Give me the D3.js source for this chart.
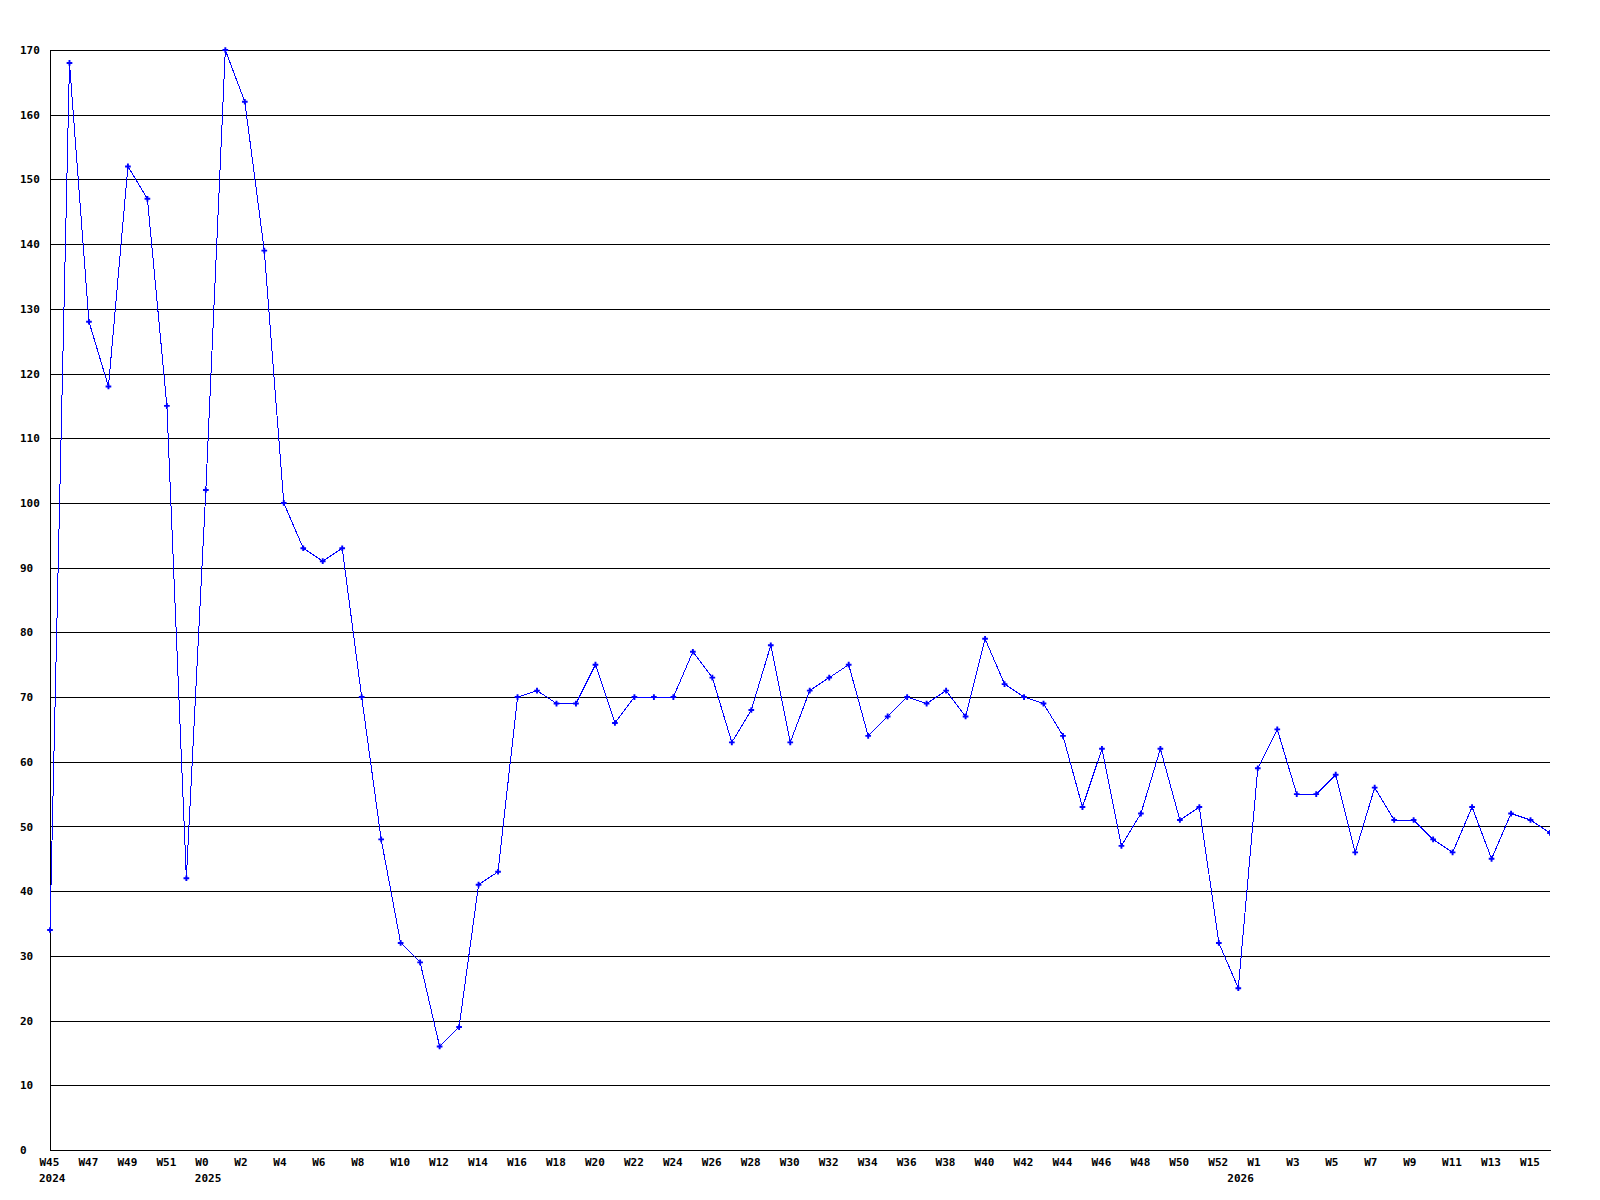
<!DOCTYPE html>
<html>
<head>
<meta charset="utf-8">
<script src="https://cdn.jsdelivr.net/npm/d3@7"></script>
<style>
  body { margin: 0; background: #fff; }
  svg { display: block; }
  text { font-family: "DejaVu Sans Mono", "Liberation Mono", monospace; font-weight: bold; font-size: 11px; fill: #000; }
</style>
</head>
<body>
<div id="container"></div>
<script>
// weekly counts, W45 2024 .. W16 2026
const weeks = [
  "W45", "W46", "W47", "W48", "W49", "W50", "W51", "W52",
  "W0", "W1", "W2", "W3", "W4", "W5", "W6", "W7", "W8", "W9", "W10",
  "W11", "W12", "W13", "W14", "W15", "W16", "W17", "W18", "W19", "W20",
  "W21", "W22", "W23", "W24", "W25", "W26", "W27", "W28", "W29", "W30",
  "W31", "W32", "W33", "W34", "W35", "W36", "W37", "W38", "W39", "W40",
  "W41", "W42", "W43", "W44", "W45", "W46", "W47", "W48", "W49", "W50",
  "W51", "W52",
  "W0", "W1", "W2", "W3", "W4", "W5", "W6", "W7", "W8", "W9", "W10",
  "W11", "W12", "W13", "W14", "W15", "W16"
];
const years = ["2024", "2025", "2026"];
const values = [
  34, 168, 128, 118, 152, 147, 115, 42,
  102, 170, 162, 139, 100, 93, 91, 93, 70, 48, 32,
  29, 16, 19, 41, 43, 70, 71, 69, 69, 75,
  66, 70, 70, 70, 77, 73, 63, 68, 78, 63,
  71, 73, 75, 64, 67, 70, 69, 71, 67, 79,
  72, 70, 69, 64, 53, 62, 47, 52, 62, 51,
  53, 32,
  25, 59, 65, 55, 55, 58, 46, 56, 51, 51, 48,
  46, 53, 45, 52, 51, 49
];
const yTicks = d3.range(0, 171, 10);

const width = 1600, height = 1200;
const m = { left: 50, right: 1550, top: 50, bottom: 1150 };

const idx = d3.range(values.length);
const x = d3.scaleLinear().domain([0, values.length - 1]).range([m.left, m.right]);
const y = d3.scaleLinear().domain([0, 170]).range([m.bottom, m.top]);

const svg = d3.select("#container").append("svg")
  .attr("width", width)
  .attr("height", height);

// horizontal grid + y labels
const yAxis = svg.append("g")
  .attr("transform", `translate(${m.left},0)`)
  .call(d3.axisLeft(y).tickValues(yTicks).tickSize(-(m.right - m.left)).tickFormat(d3.format("d")));
yAxis.select(".domain").remove();
yAxis.selectAll(".tick line").attr("stroke", "#000").attr("shape-rendering", "crispEdges");
yAxis.selectAll(".tick text")
  .attr("x", 20 - m.left)
  .attr("text-anchor", "start");

// left axis line
svg.append("line")
  .attr("x1", m.left).attr("x2", m.left)
  .attr("y1", y(170)).attr("y2", y(0))
  .attr("stroke", "#000")
  .attr("shape-rendering", "crispEdges");

// x axis: every other week
const xAxis = svg.append("g")
  .attr("transform", `translate(0,${m.bottom})`)
  .call(d3.axisBottom(x)
    .tickValues(idx.filter((i) => i % 2 === 0))
    .tickSize(0)
    .tickFormat((i) => weeks[i]));
xAxis.select(".domain").attr("stroke", "#000").attr("shape-rendering", "crispEdges");
xAxis.selectAll(".tick text")
  .attr("y", 8)
  .attr("dx", -11)
  .attr("text-anchor", "start");

// year labels under first week and each W0
const yearStarts = idx.filter((i) => i === 0 || weeks[i] === "W0");
svg.append("g").selectAll("text")
  .data(yearStarts)
  .join("text")
  .attr("x", (i) => x(i) - 11)
  .attr("y", m.bottom + 32)
  .text((i, j) => years[j]);

// clip right edge of plot area
svg.append("defs").append("clipPath").attr("id", "plot")
  .append("rect")
  .attr("x", m.left - 5).attr("y", m.top - 5)
  .attr("width", m.right - m.left + 5).attr("height", m.bottom - m.top + 10);

const plot = svg.append("g").attr("clip-path", "url(#plot)");

plot.append("path")
  .datum(values)
  .attr("fill", "none")
  .attr("stroke", "#0000ff")
  .attr("stroke-width", 1)
  .attr("shape-rendering", "crispEdges")
  .attr("d", d3.line().x((d, i) => x(i)).y((d) => y(d)));

plot.append("g").selectAll("path")
  .data(values)
  .join("path")
  .attr("transform", (d, i) => `translate(${x(i)},${y(d)})`)
  .attr("d", d3.symbol(d3.symbolCross, 18))
  .attr("fill", "#0000ff");
</script>
</body>
</html>
